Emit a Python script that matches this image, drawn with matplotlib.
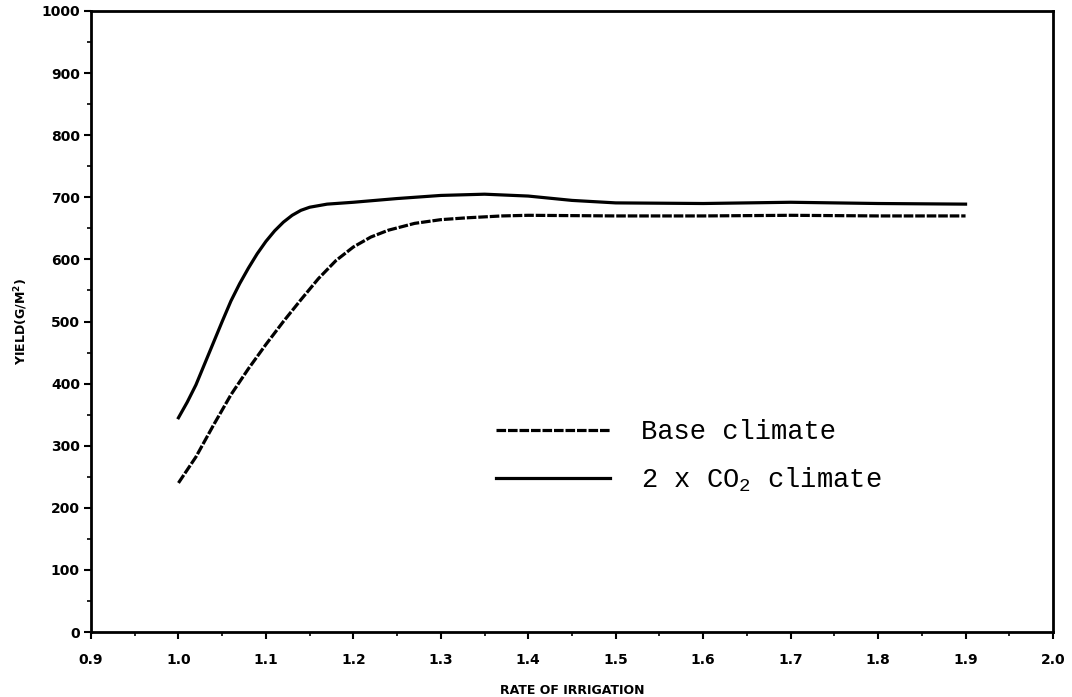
import matplotlib
matplotlib.use("Agg")
import matplotlib.pyplot as plt
from matplotlib.ticker import MultipleLocator

# Data
x_co2 = [1.00, 1.01, 1.02, 1.03, 1.04, 1.05, 1.06, 1.07, 1.08, 1.09, 1.10, 1.11, 1.12, 1.13, 1.14,
         1.15, 1.17, 1.20, 1.25, 1.30, 1.35, 1.40, 1.45, 1.50, 1.60, 1.70, 1.80, 1.90]
y_co2 = [345, 370, 398, 432, 466, 500, 533, 561, 586, 609, 629, 646, 660, 671, 679,
         684, 689, 692, 698, 703, 705, 702, 695, 691, 690, 692, 690, 689]

x_base = [1.00, 1.02, 1.04, 1.06, 1.08, 1.10, 1.12, 1.14, 1.16, 1.18, 1.20, 1.22, 1.24, 1.27,
          1.30, 1.33, 1.37, 1.40, 1.50, 1.60, 1.70, 1.80, 1.90]
y_base = [240, 282, 333, 382, 424, 463, 500, 535, 569, 598, 620, 636, 647, 658,
          664, 667, 670, 671, 670, 670, 671, 670, 670]

x_ticks = [0.9, 1.0, 1.1, 1.2, 1.3, 1.4, 1.5, 1.6, 1.7, 1.8, 1.9, 2.0]
y_ticks = [0, 100, 200, 300, 400, 500, 600, 700, 800, 900, 1000]
labels = ["Base climate", r"2 x CO$_{\mathregular{2}}$ climate"]

fig = plt.figure(figsize=(10.72, 6.97), dpi=100)
ax = fig.add_axes([91/1072, 1 - 632/697, (1053 - 91)/1072, (632 - 11)/697])

ax.plot(x_base, y_base, color="black", lw=2.3, dashes=(3.0, 0.6), label=labels[0])
ax.plot(x_co2, y_co2, color="black", lw=2.3, label=labels[1])

ax.set_xlim(0.9, 2.0)
ax.set_ylim(0, 1000)
ax.set_xticks(x_ticks)
ax.set_xticklabels([f"{v:.1f}" for v in x_ticks])
ax.set_yticks(y_ticks)
ax.xaxis.set_minor_locator(MultipleLocator(0.05))
ax.yaxis.set_minor_locator(MultipleLocator(50))
ax.tick_params(axis="both", which="major", direction="out", length=5, width=1.5)
ax.tick_params(axis="x", which="major", pad=10)
ax.tick_params(axis="y", which="major", pad=3)
ax.tick_params(axis="both", which="minor", direction="out", length=3, width=1.2)
for lab in ax.get_xticklabels() + ax.get_yticklabels():
    lab.set_fontweight("heavy")
    lab.set_fontsize(10)
    lab.set_family("DejaVu Sans")
for sp in ax.spines.values():
    sp.set_linewidth(2)

ax.set_xlabel("RATE OF IRRIGATION", fontsize=9, fontweight="heavy", labelpad=12)
ax.set_ylabel(r"YIELD(G/M$^{\mathregular{2}}$)", fontsize=9, fontweight="heavy", labelpad=8)

leg = ax.legend(loc="upper left", bbox_to_anchor=(0.41, 0.36), frameon=False,
                prop={"family": "Liberation Mono", "size": 19.5},
                handlelength=4.2, handletextpad=1.15, labelspacing=0.75, borderaxespad=0)

fig.savefig("out.png", dpi=100)
